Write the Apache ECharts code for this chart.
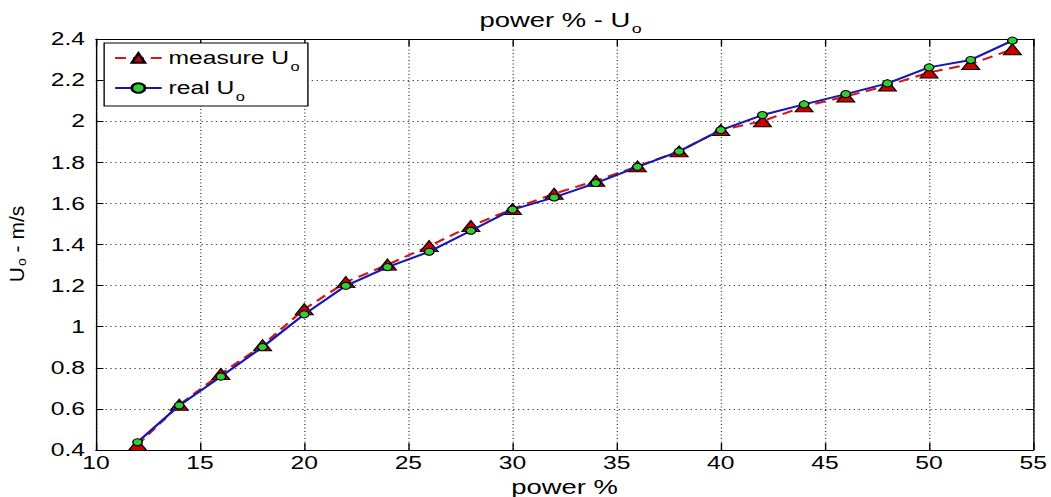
<!DOCTYPE html>
<html>
<head>
<meta charset="utf-8">
<script src="https://cdn.jsdelivr.net/npm/echarts@6/dist/echarts.min.js"></script>
<style>
html,body{margin:0;padding:0;background:#fff;overflow:hidden;width:1051px;height:497px;}
#c{width:767px;height:497px;transform:scaleX(1.3703);transform-origin:0 0;}
</style>
</head>
<body>
<div id="c"></div>
<script>
// ---- data ----
var power = [12, 14, 16, 18, 20, 22, 24, 26, 28, 30, 32, 34, 36, 38, 40, 42, 44, 46, 48, 50, 52, 54];
var measureU = [0.425, 0.62, 0.77, 0.91, 1.085, 1.217, 1.302, 1.392, 1.49, 1.573, 1.647, 1.71, 1.78, 1.853, 1.957, 2.0, 2.072, 2.12, 2.174, 2.237, 2.278, 2.35];
var realU = [0.438, 0.617, 0.757, 0.901, 1.06, 1.199, 1.29, 1.365, 1.467, 1.57, 1.629, 1.699, 1.778, 1.853, 1.957, 2.03, 2.082, 2.132, 2.184, 2.262, 2.298, 2.392];
var xTicks = {min: 10, max: 55, interval: 5};
var yTicks = {min: 0.4, max: 2.4, interval: 0.2};
var seriesNames = ['measure', 'real'];

function pairs(xs, ys) { return xs.map(function (x, i) { return [x, ys[i]]; }); }

var FONT = 'Liberation Sans, Arial, sans-serif';
var chart = echarts.init(document.getElementById('c'), null, {renderer: 'svg'});
var gridLine = {show: true, lineStyle: {color: '#444', width: 1, type: [1, 2.5]}};
var axisLine = {show: true, onZero: false, lineStyle: {color: '#000', width: 1}};

chart.setOption({
  animation: false,
  backgroundColor: '#fff',
  title: {
    text: '{a|power % - U}{s|o}',
    left: 345, top: 0,
    textStyle: {
      fontWeight: 'normal',
      rich: {
        a: {fontFamily: FONT, fontSize: 20, fontWeight: 'normal', color: '#000', lineHeight: 30, verticalAlign: 'middle'},
        s: {fontFamily: FONT, fontSize: 13, fontWeight: 'normal', color: '#000', padding: [16, 0, 0, 1], lineHeight: 14, verticalAlign: 'middle'}
      }
    }
  },
  legend: {
    orient: 'vertical',
    left: 76, top: 43,
    padding: [0, 6, 3, 7],
    itemGap: 0,
    itemWidth: 34, itemHeight: 12,
    borderColor: '#000', borderWidth: 1,
    backgroundColor: '#fff',
    data: seriesNames,
    formatter: function (n) { return n === 'measure' ? '{a|measure U}{s|o}' : '{a|real U}{s|o}'; },
    textStyle: {
      rich: {
        a: {fontFamily: FONT, fontSize: 18, color: '#000', lineHeight: 30, verticalAlign: 'middle'},
        s: {fontFamily: FONT, fontSize: 12, color: '#000', padding: [18, 0, 0, 1], lineHeight: 12, verticalAlign: 'middle'}
      }
    }
  },
  graphic: [{
    type: 'text',
    x: 12.6, y: 244,
    rotation: Math.PI / 2,
    scaleY: 0.68,
    style: {
      text: '{a|U}{s|o}{a| - m/s}',
      align: 'center', verticalAlign: 'middle',
      rich: {
        a: {fontFamily: FONT, fontSize: 21, fill: '#000', lineHeight: 30, verticalAlign: 'middle'},
        s: {fontFamily: FONT, fontSize: 14, fill: '#000', padding: [10, 0, 0, 1], lineHeight: 14, verticalAlign: 'middle'}
      }
    }
  }],
  grid: {left: 70, right: 13, top: 39, bottom: 47, containLabel: false, outerBoundsMode: 'none'},
  xAxis: [{
    type: 'value', min: xTicks.min, max: xTicks.max, interval: xTicks.interval,
    name: 'power %', nameLocation: 'middle', nameGap: 19,
    nameTextStyle: {fontFamily: FONT, fontSize: 20, color: '#000'},
    axisLine: axisLine,
    axisTick: {show: true, inside: true, length: 7, lineStyle: {color: '#000'}},
    axisLabel: {fontFamily: FONT, fontSize: 18, color: '#000', margin: 4},
    splitLine: gridLine
  }, {
    type: 'value', position: 'top', min: xTicks.min, max: xTicks.max, interval: xTicks.interval,
    axisLine: axisLine,
    axisTick: {show: true, inside: true, length: 7, lineStyle: {color: '#000'}},
    axisLabel: {show: false}, splitLine: {show: false}
  }],
  yAxis: [{
    type: 'value', min: yTicks.min, max: yTicks.max, interval: yTicks.interval,
    axisLine: axisLine,
    axisTick: {show: true, inside: true, length: 5.5, lineStyle: {color: '#000'}},
    axisLabel: {fontFamily: FONT, fontSize: 18, color: '#000', margin: 8, lineHeight: 16},
    splitLine: gridLine
  }, {
    type: 'value', position: 'right', min: yTicks.min, max: yTicks.max, interval: yTicks.interval,
    axisLine: axisLine,
    axisTick: {show: true, inside: true, length: 5.5, lineStyle: {color: '#000'}},
    axisLabel: {show: false}, splitLine: {show: false}
  }],
  series: [{
    name: seriesNames[0], type: 'line', data: pairs(power, measureU),
    symbol: 'triangle', symbolSize: [13, 11],
    lineStyle: {color: '#d01818', width: 2, type: [8, 5]},
    itemStyle: {color: '#c80000', borderColor: '#000', borderWidth: 1},
    z: 2
  }, {
    name: seriesNames[1], type: 'line', data: pairs(power, realU),
    symbol: 'circle', symbolSize: 7,
    lineStyle: {color: '#1818b0', width: 2, type: 'solid'},
    itemStyle: {color: '#33cc33', borderColor: '#000', borderWidth: 1},
    z: 3
  }]
});
</script>
</body>
</html>
